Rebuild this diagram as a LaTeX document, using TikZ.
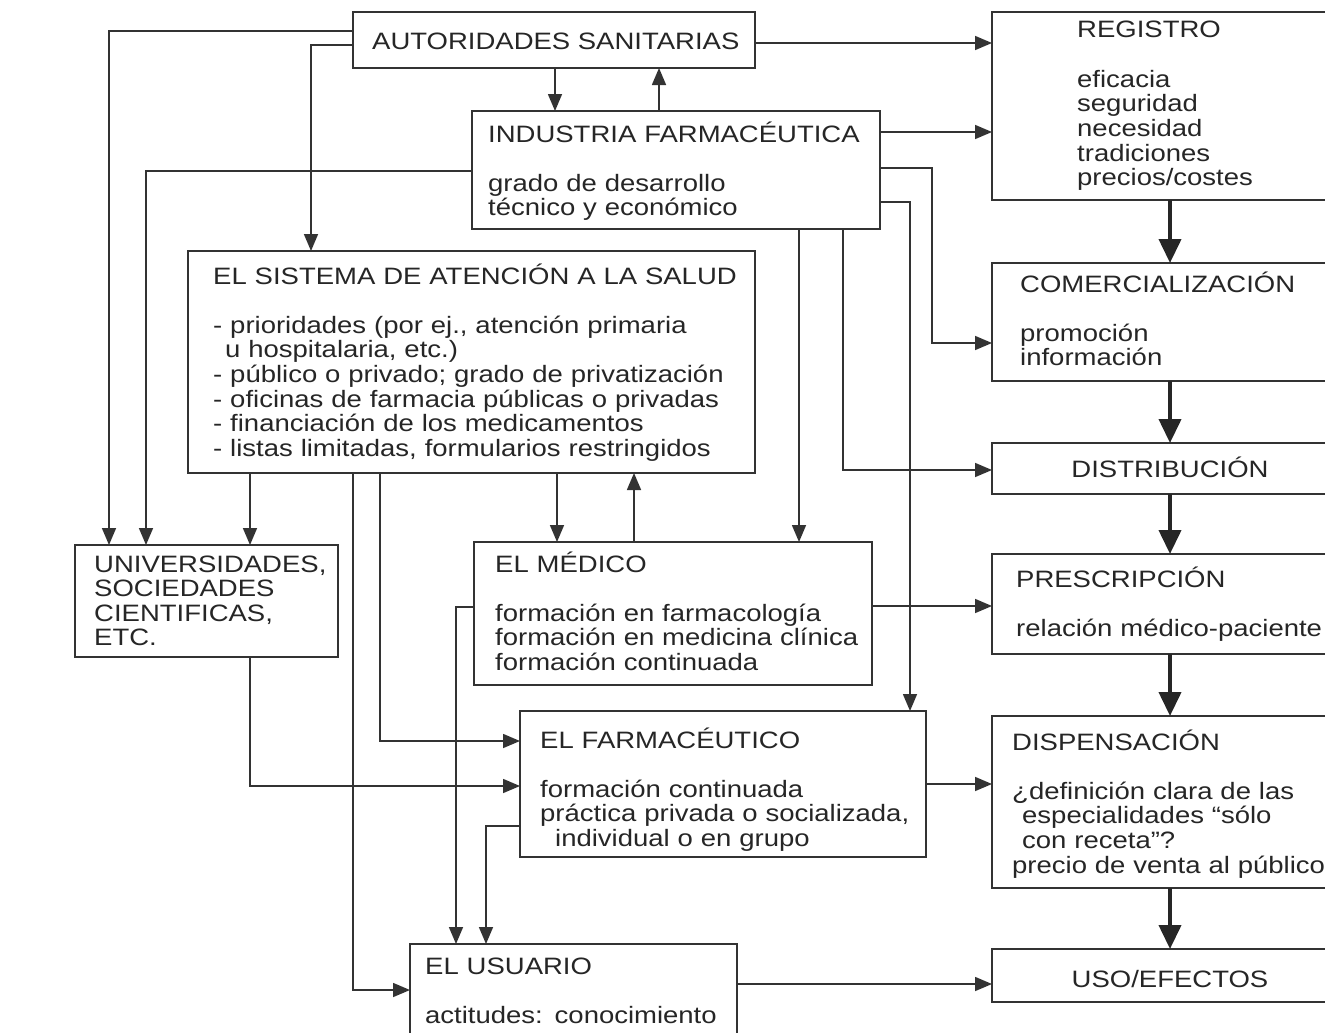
\documentclass[tikz,border=0pt]{standalone}
\usepackage{fontspec}
\setmainfont{Liberation Sans}[FakeStretch=1.16]
\usetikzlibrary{arrows.meta, math}

\begin{document}
\begin{tikzpicture}[x=1pt, y=-1pt,
  box/.style={draw=black!80, line width=1.8pt, inner sep=0pt, outer sep=0pt, anchor=north west},
  txt/.style={inner sep=0pt, anchor=base west, align=left, text=black!85, font=\fontsize{23.7pt}{24.6pt}\selectfont},
  arr/.style={draw=black!80, line width=1.6pt, -{Triangle[length=17pt,width=14pt]}},
  flow/.style={draw=black!85, line width=4pt, -{Triangle[length=24pt,width=22pt]}}]
\tikzmath{
\gap=24.6;
\cx=1170;
}
\fill[white] (0,0) rectangle (1325,1033);
\clip (0,0) rectangle (1325,1033);

\node[box, minimum width=402, minimum height=56] (aut) at (353,12) {};
\node[box, minimum width=408, minimum height=118] (ind) at (472,111) {};
\node[box, minimum width=348, minimum height=188] (reg) at (992,12) {};
\node[box, minimum width=348, minimum height=118] (com) at (992,263) {};
\node[box, minimum width=348, minimum height=51] (dis) at (992,443) {};
\node[box, minimum width=348, minimum height=100] (pre) at (992,554) {};
\node[box, minimum width=348, minimum height=172] (disp) at (992,716) {};
\node[box, minimum width=348, minimum height=53] (uso) at (992,949) {};
\node[box, minimum width=567, minimum height=222] (sis) at (188,251) {};
\node[box, minimum width=263, minimum height=112] (uni) at (75,545) {};
\node[box, minimum width=398, minimum height=143] (med) at (474,542) {};
\node[box, minimum width=406, minimum height=146] (far) at (520,711) {};
\node[box, minimum width=327, minimum height=110] (usu) at (410,944) {};

\node[txt] (aut-t) at (372,50) {AUTORIDADES SANITARIAS};
\node[txt, text width=385] (ind-t) at (488,142) {INDUSTRIA FARMACÉUTICA\\[\gap pt]grado de desarrollo\\técnico y económico};
\node[txt, text width=240] (reg-t) at (1077,38) {REGISTRO\\[\gap pt]eficacia\\seguridad\\necesidad\\tradiciones\\precios/costes};
\node[txt, text width=310] (com-t) at (1020,292) {COMERCIALIZACIÓN\\[\gap pt]promoción\\información};
\node[txt, anchor=base] (dis-t) at (\cx,477) {DISTRIBUCIÓN};
\node[txt, text width=310] (pre-t) at (1016,587) {PRESCRIPCIÓN\\[\gap pt]relación médico-paciente};
\node[txt, text width=320] (disp-t) at (1012,750) {DISPENSACIÓN\\[\gap pt]¿definición clara de las\\\hspace*{10pt}especialidades “sólo\\\hspace*{10pt}con receta”?\\precio de venta al público};
\node[txt, anchor=base] (uso-t) at (\cx,987) {USO/EFECTOS};
\node[txt, text width=535] (sis-t) at (213,284) {EL SISTEMA DE ATENCIÓN A LA SALUD\\[\gap pt]- prioridades (por ej., atención primaria\\\hspace*{12pt}u hospitalaria, etc.)\\- público o privado; grado de privatización\\- oficinas de farmacia públicas o privadas\\- financiación de los medicamentos\\- listas limitadas, formularios restringidos};
\node[txt, text width=240] (uni-t) at (94,572) {UNIVERSIDADES,\\SOCIEDADES\\CIENTIFICAS,\\ETC.};
\node[txt, text width=370] (med-t) at (495,572) {EL MÉDICO\\[\gap pt]formación en farmacología\\formación en medicina clínica\\formación continuada};
\node[txt, text width=380] (far-t) at (540,748) {EL FARMACÉUTICO\\[\gap pt]formación continuada\\práctica privada o socializada,\\\hspace*{15pt}individual o en grupo};
\node[txt, text width=300] (usu-t) at (425,974) {EL USUARIO\\[\gap pt]actitudes: conocimiento};

\draw[arr] (aut.east |- 0,43) -- (reg.west |- 0,43);
\draw[arr] (aut.south -| 555,0) -- (ind.north -| 555,0);
\draw[arr] (ind.north -| 659,0) -- (aut.south -| 659,0);
\draw[arr] (aut.west |- 0,31) -| (uni.north -| 109,0);
\draw[arr] (aut.west |- 0,45) -| (sis.north -| 311,0);
\draw[arr] (ind.west |- 0,171) -| (uni.north -| 146,0);
\draw[arr] (ind.east |- 0,132) -- (reg.west |- 0,132);
\draw[arr] (ind.east |- 0,168) -- ++(52,0) |- (com.west |- 0,343);
\draw[arr] (ind.east |- 0,202) -| (far.north -| 910,0);
\draw[arr] (ind.south -| 799,0) -- (med.north -| 799,0);
\draw[arr] (ind.south -| 843,0) |- (dis.west |- 0,470);
\draw[arr] (sis.south -| 250,0) -- (uni.north -| 250,0);
\draw[arr] (sis.south -| 353,0) |- (usu.west |- 0,990);
\draw[arr] (sis.south -| 380,0) |- (far.west |- 0,741);
\draw[arr] (sis.south -| 557,0) -- (med.north -| 557,0);
\draw[arr] (med.north -| 634,0) -- (sis.south -| 634,0);
\draw[arr] (uni.south -| 250,0) |- (far.west |- 0,786);
\draw[arr] (med.west |- 0,607) -| (usu.north -| 456,0);
\draw[arr] (far.west |- 0,826) -| (usu.north -| 486,0);
\draw[arr] (med.east |- 0,606) -- (pre.west |- 0,606);
\draw[arr] (far.east |- 0,784) -- (disp.west |- 0,784);
\draw[arr] (usu.east |- 0,984) -- (uso.west |- 0,984);

\foreach \a/\b in {reg/com, com/dis, dis/pre, pre/disp, disp/uso}
  \draw[flow] (\a.south -| \cx,0) -- (\b.north -| \cx,0);
\end{tikzpicture}
\end{document}
